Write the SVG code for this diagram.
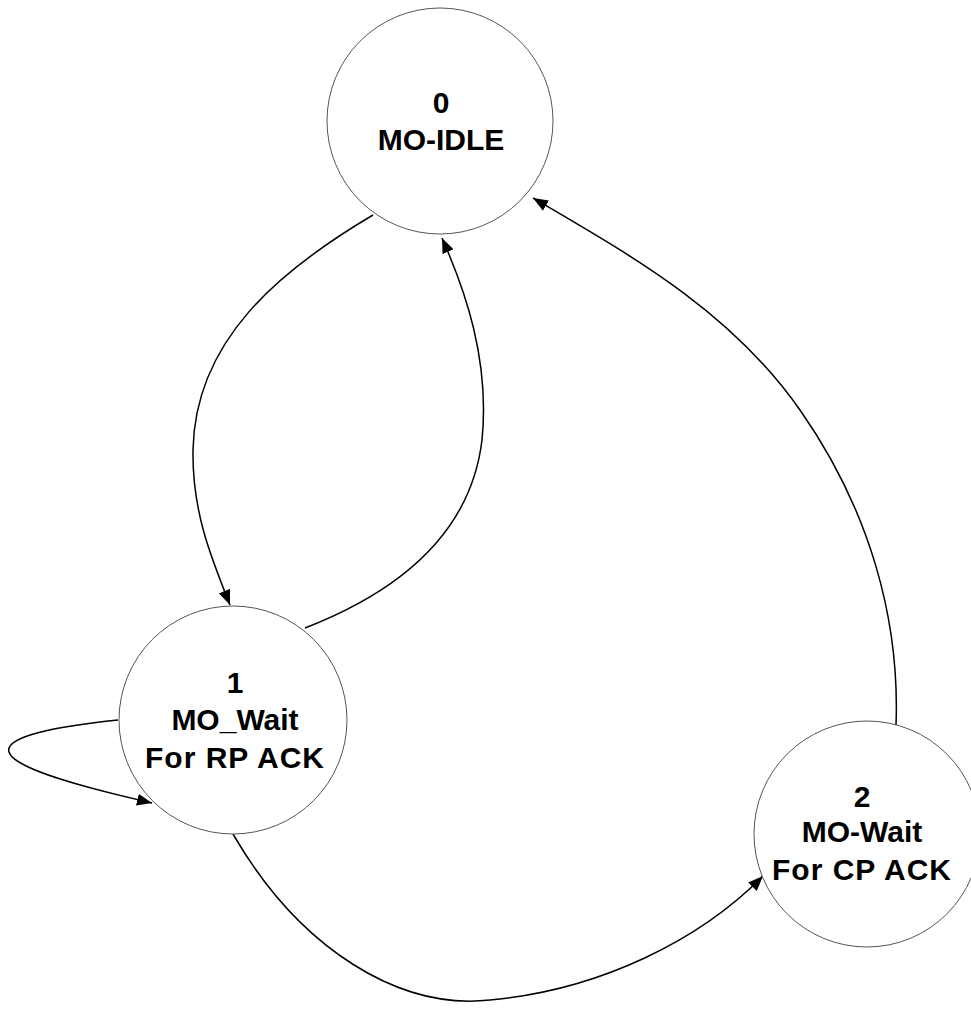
<svg xmlns="http://www.w3.org/2000/svg" width="971" height="1030" viewBox="0 0 971 1030">
<style>
.node{fill:#fff;stroke:#555;stroke-width:1}
.lbl{font-family:"Liberation Sans",Arial,sans-serif;font-weight:bold;font-size:30px;fill:#000;text-anchor:middle}
.wide{letter-spacing:1px}
.edge{fill:none;stroke:#000;stroke-width:1.5}
</style>
<defs>
<marker id="arr" markerUnits="userSpaceOnUse" markerWidth="16" markerHeight="12" refX="15" refY="6" orient="auto">
<path d="M0,0 L15,6 L0,12 z" fill="#000"/>
</marker>
</defs>
<rect width="971" height="1030" fill="#fff"/>
<g id="connectors">
<path class="edge" d="M373,215 C280,270 195,340 193,450 C192,510 210,555 230,605" marker-end="url(#arr)"/>
<path class="edge" d="M305,628 C390,595 470,540 482,440 C490,360 465,290 442,238" marker-end="url(#arr)"/>
<path class="edge" d="M896,725 C900,620 870,510 800,410 C730,310 630,255 533,198" marker-end="url(#arr)"/>
<path class="edge" d="M233,834 C300,950 400,1010 490,1000 C600,990 700,940 763,876" marker-end="url(#arr)"/>
<path class="edge" d="M118,720 C60,726 4,736 9,752 C14,770 95,790 152,803" marker-end="url(#arr)"/>
</g>
<g id="node0">
<circle class="node" cx="440" cy="121" r="113"/>
<text class="lbl" x="441" y="113">0</text>
<text class="lbl" x="441" y="150">MO-IDLE</text>
</g>
<g id="node1">
<circle class="node" cx="233" cy="720" r="114"/>
<text class="lbl" x="235" y="693">1</text>
<text class="lbl" x="235" y="730">MO_Wait</text>
<text class="lbl wide" x="235" y="768">For RP ACK</text>
</g>
<g id="node2">
<circle class="node" cx="867" cy="834" r="113"/>
<text class="lbl" x="862" y="807">2</text>
<text class="lbl" x="862" y="842">MO-Wait</text>
<text class="lbl wide" x="862" y="880">For CP ACK</text>
</g>
</svg>
